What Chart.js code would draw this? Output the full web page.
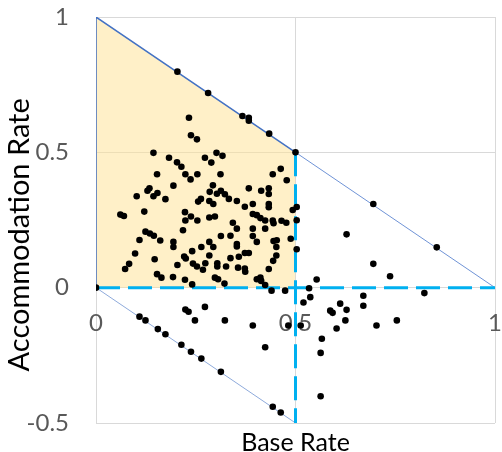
<!DOCTYPE html>
<html>
<head>
<meta charset="utf-8">
<script src="https://cdn.jsdelivr.net/npm/chart.js@4/dist/chart.umd.min.js"></script>
<style>
  html, body { margin: 0; padding: 0; background: #fff; }
</style>
</head>
<body>
<canvas id="myChart" width="502" height="452"></canvas>
<script>
// scatter values (base rate, accommodation rate)
var baseRate = [
  0.204, 0.281, 0.367, 0.383, 0.383, 0.434, 0.500, 0.695, 0.854,
  0.000,
  0.109, 0.124, 0.155, 0.174, 0.214, 0.238, 0.264, 0.313, 0.443, 0.463,
  0.224, 0.232, 0.273, 0.248, 0.323, 0.393, 0.424, 0.482, 0.440, 0.474,
  0.503, 0.503, 0.503, 0.628, 0.695, 0.737, 0.553, 0.534, 0.537, 0.670, 0.823, 0.520, 0.513,
  0.670, 0.612, 0.587, 0.593, 0.628, 0.625, 0.603, 0.703, 0.754, 0.566, 0.563, 0.563,
  0.233, 0.238, 0.253, 0.144, 0.183, 0.273, 0.302, 0.317,
  0.203, 0.214, 0.289, 0.153, 0.224, 0.237, 0.254, 0.312,
  0.463, 0.443, 0.478, 0.194, 0.293,
  0.134, 0.129, 0.154, 0.144, 0.102, 0.174,
  0.383, 0.414, 0.433, 0.433, 0.285, 0.303, 0.313, 0.323, 0.333, 0.263, 0.256, 0.284, 0.353, 0.393, 0.433,
  0.493, 0.465, 0.477, 0.488,
  0.294, 0.373, 0.433, 0.393, 0.403, 0.412, 0.424, 0.443, 0.445,
  0.284, 0.298, 0.343, 0.353, 0.393, 0.424,
  0.313, 0.337, 0.393, 0.403, 0.445, 0.453,
  0.284, 0.264, 0.294, 0.353, 0.353, 0.452,
  0.373, 0.383, 0.452, 0.284, 0.337, 0.358, 0.444,
  0.274, 0.304, 0.304, 0.326, 0.268, 0.356, 0.373, 0.374, 0.433,
  0.298, 0.306, 0.322, 0.403, 0.412, 0.414, 0.424,
  0.061, 0.070, 0.121, 0.223, 0.238, 0.224, 0.254, 0.218,
  0.124, 0.135, 0.145, 0.161, 0.109, 0.194, 0.194, 0.098, 0.147, 0.221, 0.225, 0.241,
  0.204, 0.243, 0.253, 0.083, 0.073, 0.153, 0.164, 0.193, 0.223, 0.241
];
var accomRate = [
  0.798, 0.719, 0.634, 0.628, 0.617, 0.569, 0.500, 0.309, 0.149,
  0.000,
  -0.107, -0.121, -0.153, -0.172, -0.211, -0.237, -0.262, -0.311, -0.440, -0.461,
  -0.081, -0.089, -0.071, -0.121, -0.121, -0.140, -0.220, -0.140, -0.011, -0.011,
  0.298, 0.249, 0.142, 0.197, 0.088, 0.042, 0.030, -0.002, -0.035, -0.030, -0.020, -0.055, -0.140,
  -0.067, -0.059, -0.085, -0.093, -0.082, -0.121, -0.151, -0.140, -0.121, -0.189, -0.241, -0.401,
  0.628, 0.563, 0.548, 0.498, 0.480, 0.480, 0.498, 0.487,
  0.463, 0.447, 0.462, 0.419, 0.419, 0.400, 0.419, 0.419,
  0.439, 0.419, 0.397, 0.377, 0.378,
  0.367, 0.358, 0.350, 0.338, 0.338, 0.327,
  0.367, 0.358, 0.367, 0.346, 0.354, 0.347, 0.358, 0.345, 0.328, 0.328, 0.318, 0.320, 0.320, 0.309, 0.309,
  0.287, 0.247, 0.240, 0.181,
  0.309, 0.299, 0.297, 0.272, 0.268, 0.257, 0.248, 0.248, 0.238,
  0.259, 0.263, 0.240, 0.218, 0.218, 0.218,
  0.191, 0.192, 0.191, 0.169, 0.172, 0.175,
  0.169, 0.150, 0.150, 0.161, 0.152, 0.150,
  0.128, 0.128, 0.119, 0.119, 0.109, 0.114, 0.099,
  0.090, 0.090, 0.078, 0.078, 0.066, 0.074, 0.071, 0.059, 0.069,
  0.037, 0.031, 0.015, 0.031, 0.037, 0.025, 0.010,
  0.270, 0.265, 0.281, 0.279, 0.263, 0.248, 0.248, 0.212,
  0.207, 0.200, 0.192, 0.174, 0.176, 0.169, 0.150, 0.126, 0.105, 0.115, 0.108, 0.135,
  0.084, 0.089, 0.078, 0.088, 0.069, 0.050, 0.037, 0.039, 0.029, 0.012
];

var xTicks = [0, 0.5, 1];
var yTicks = [-0.5, 0, 0.5, 1];

// reference shapes
var shadedX = [0, 0, 0.5];
var shadedY = [0, 1, 0.5];
var upperDiagX = [0.5, 1];
var upperDiagY = [0.5, 0];
var lowerDiagX = [0, 0.5];
var lowerDiagY = [0, -0.5];
var hDashX = [0, 1];
var hDashY = [0, 0];
var vDashX = [0.5, 0.5];
var vDashY = [0.5, -0.5];

function pts(xs, ys) {
  return xs.map(function (x, i) { return { x: x, y: ys[i] }; });
}

Chart.defaults.font.family = 'Lato';

var lineStyle = { type: 'line', showLine: true, pointRadius: 0, pointHoverRadius: 0, fill: false, tension: 0 };

new Chart(document.getElementById('myChart'), {
  type: 'scatter',
  data: {
    datasets: [
      {
        label: 'points',
        data: pts(baseRate, accomRate),
        backgroundColor: '#000',
        borderColor: '#000',
        pointRadius: 3.3,
        pointHoverRadius: 3.3,
        pointBorderWidth: 0,
        order: 0
      },
      Object.assign({}, lineStyle, {
        data: pts(hDashX, hDashY),
        borderColor: '#00B0F0', borderWidth: 3, borderDash: [24, 8], order: 1
      }),
      Object.assign({}, lineStyle, {
        data: pts(vDashX, vDashY),
        borderColor: '#00B0F0', borderWidth: 3, borderDash: [24, 8], order: 1
      }),
      Object.assign({}, lineStyle, {
        data: pts(upperDiagX, upperDiagY),
        borderColor: '#6F93D6', borderWidth: 1, order: 2
      }),
      Object.assign({}, lineStyle, {
        data: pts(lowerDiagX, lowerDiagY),
        borderColor: '#8EAADB', borderWidth: 1, order: 2
      }),
      Object.assign({}, lineStyle, {
        data: pts(shadedX, shadedY),
        borderColor: '#4472C4', borderWidth: 1.5,
        backgroundColor: 'rgba(255, 226, 150, 0.52)', fill: 'origin', order: 3
      })
    ]
  },
  options: {
    responsive: false,
    animation: false,
    layout: { padding: { top: 17, right: 7, left: 0, bottom: 0 } },
    plugins: { legend: { display: false }, tooltip: { enabled: false } },
    scales: {
      x: {
        type: 'linear', min: 0, max: 1,
        position: { y: 0 },
        afterBuildTicks: function (s) { s.ticks = xTicks.map(function (v) { return { value: v }; }); },
        afterFit: function (s) { s.height = 0; s.paddingLeft = 0; s.paddingRight = 0; },
        ticks: { padding: 21, color: '#595959', font: { size: 24 }, callback: function (v) { return String(v); } },
        grid: { color: '#D9D9D9', drawTicks: false },
        border: { display: false }
      },
      x2: {
        type: 'linear', min: 0, max: 1, position: 'bottom',
        ticks: { display: false },
        grid: { display: false, drawTicks: false },
        border: { display: false },
        afterFit: function (s) { s.height = 29; s.paddingLeft = 0; s.paddingRight = 0; },
        title: { display: true, text: 'Base Rate', color: '#000', font: { size: 25, lineHeight: 0.75 }, padding: { top: 0, bottom: 0 } }
      },
      y: {
        type: 'linear', min: -0.5, max: 1, position: 'left',
        afterBuildTicks: function (s) { s.ticks = yTicks.map(function (v) { return { value: v }; }); },
        afterFit: function (s) { s.width = 96; s.paddingTop = 0; s.paddingBottom = 0; },
        ticks: { padding: 27, color: '#595959', font: { size: 24 }, callback: function (v) { return String(v); } },
        grid: { color: '#D9D9D9', drawTicks: false },
        border: { display: false },
        // trailing spaces nudge the rotated title down a little, as in the original
        title: { display: true, text: 'Accommodation Rate    ', color: '#000', font: { size: 29, lineHeight: 1 }, padding: { top: 5, bottom: 0 } }
      }
    }
  }
});
</script>
</body>
</html>
